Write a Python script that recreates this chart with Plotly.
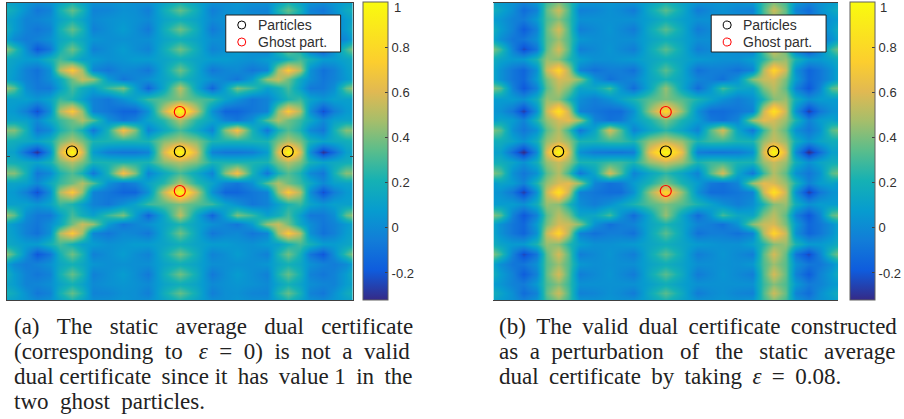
import numpy as np
import plotly.graph_objects as go

W, H = 904, 419
# quadrant sample positions: offset from the map centre (px-like units)
x_offsets = [-173, -166, -154, -143, -130, -120, -108, -98, -87, -72, -57, -45, -32, -16, 0]
y_offsets = [148.5, 141.5, 132.5, 122.5, 112.5, 102.5, 92.5, 81.5, 72.5, 63.5, 52.5, 40.5, 31.5, 21.5, 10.5, 0]

# upper-left quadrant of panel (a)
quad_a = [
    [.12, .10, .05, .00, .03, .12, .22, .12, .02, .02, .05, .02, .02, .12, .22],
    [.20, .15, .03, -.08, -.03, .20, .36, .22, -.03, -.02, .03, .02, -.05, .18, .36],
    [.12, .08, -.03, -.02, .02, .12, .20, .12, .00, .03, .05, .03, .00, .12, .18],
    [.18, .08, -.03, -.08, -.03, .20, .36, .22, -.04, .02, .08, .02, -.07, .18, .38],
    [.10, .00, -.06, -.03, .03, .14, .20, .14, .05, .02, .03, .02, .02, .12, .18],
    [.42, .28, .02, -.20, -.08, .20, .38, .22, -.04, .02, .08, .02, -.03, .18, .38],
    [.15, .12, .08, .08, .20, .30, .20, .10, .08, .03, .05, .08, .08, .12, .18],
    [.12, .08, -.04, -.10, .03, .50, .72, .48, -.02, -.08, .00, -.02, -.08, .14, .38],
    [.12, .06, -.03, -.08, .02, .15, .38, .55, .45, .08, -.08, -.02, .03, .12, .22],
    [.45, .35, .02, -.07, -.07, .10, .30, .18, .10, .28, .40, .10, -.15, .14, .52],
    [.10, .10, .10, .05, .12, .28, .22, .10, -.03, -.08, .03, .12, .28, .33, .40],
    [.08, .06, -.05, -.22, .02, .50, .72, .45, -.03, -.08, -.15, -.15, .03, .55, 1.0],
    [.12, .12, .10, .00, .15, .28, .38, .50, .33, .03, -.08, -.03, .12, .25, .50],
    [.42, .42, .20, -.08, .00, .22, .32, .20, -.08, .22, .68, .42, -.03, .15, .30],
    [.20, .18, .15, .12, .20, .40, .50, .40, .22, .22, .22, .22, .22, .42, .50],
    [.12, .10, -.12, -.30, .02, .60, 1.0, .60, .08, -.05, -.08, -.08, -.03, .60, 1.0],
]
# upper-left quadrant of panel (b)
quad_b = [
    [.12, .08, .03, -.04, .05, .30, .42, .28, .05, .03, .05, .03, .03, .12, .22],
    [.18, .12, .02, -.12, -.03, .36, .56, .32, -.04, -.02, .03, .00, -.06, .16, .34],
    [.08, .05, -.03, -.06, .07, .32, .42, .28, .03, .03, .03, .03, .03, .10, .18],
    [.18, .08, -.03, -.18, -.03, .36, .58, .32, -.05, .00, .05, .00, -.06, .16, .34],
    [.12, .02, -.08, -.08, .03, .34, .46, .32, .06, .02, .03, .02, .02, .12, .18],
    [.40, .28, -.03, -.24, -.08, .36, .58, .34, -.05, .00, .05, .00, -.05, .16, .34],
    [.18, .12, .07, .07, .22, .45, .42, .24, .10, .03, .03, .05, .07, .13, .18],
    [.12, .03, -.08, -.15, .03, .55, .78, .50, -.03, -.10, -.05, -.05, -.10, .14, .34],
    [.12, .03, -.08, -.14, .08, .40, .58, .55, .42, .04, -.10, -.05, -.02, .13, .22],
    [.40, .33, -.03, -.20, -.03, .35, .52, .40, .12, .14, .30, .05, -.12, .14, .45],
    [.08, .08, .08, .03, .18, .45, .42, .22, .02, -.05, .03, .12, .22, .33, .40],
    [.05, .03, -.08, -.27, .03, .55, .85, .55, -.03, -.08, -.12, -.12, .03, .45, .80],
    [.08, .12, .08, -.03, .22, .45, .58, .62, .45, -.02, -.10, -.07, .08, .22, .40],
    [.40, .33, .03, -.08, .03, .35, .50, .28, -.08, .13, .58, .33, -.03, .13, .25],
    [.18, .18, .12, .03, .18, .45, .55, .45, .22, .22, .28, .28, .22, .45, .55],
    [.10, .10, -.12, -.32, .00, .60, 1.0, .60, .03, -.06, -.08, -.08, -.05, .65, 1.0],
]

particles_x = [-108, 0, 108]
particles_y = [0, 0, 0]
ghost_x = [0, 0]
ghost_y = [39.5, -39.5]
bar_ticks = [-0.2, 0, 0.2, 0.4, 0.6, 0.8]
bar_labels = ['-0.2', '0', '0.2', '0.4', '0.6', '0.8']
top_label = '1'
z_limits = [-0.32, 1.003]

NB = "\u00a0"
TH = "\u2009"
captions_a = [
    f"(a){NB*3}The{NB*3}static{NB*3}average{NB*3}dual{NB*3}certificate",
    f"(corresponding{NB*2}to{NB*2}{TH}<i>ε</i>{NB*2}={NB*2}0){NB*2}is{NB*2}not{NB*2}a{NB*2}valid",
    f"dual{NB}certificate{NB}{TH}since{NB}it{NB}{TH}has{NB}{TH}value{NB}1{NB}{TH}in{NB}{TH}the",
    f"two{NB*2}ghost{NB*2}particles.",
]
captions_b = [
    f"(b){NB}{TH}The{NB}{TH}valid{NB}{TH}dual{NB}{TH}certificate{NB}{TH}constructed",
    f"as{NB*2}a{NB*2}perturbation{NB*2}{TH}of{NB*2}{TH}the{NB*2}{TH}static{NB*2}{TH}average",
    f"dual{NB}{TH}certificate{NB}{TH}by{NB}{TH}taking{NB}{TH}<i>ε</i>{NB}{TH}={NB}{TH}0.08.",
]
caption_y = [326, 351, 376, 401]

PARULA = [[0, 'rgb(53,42,135)'], [0.1, 'rgb(15,92,221)'], [0.2, 'rgb(18,125,216)'],
          [0.3, 'rgb(7,156,207)'], [0.4, 'rgb(21,177,180)'], [0.5, 'rgb(89,189,140)'],
          [0.6, 'rgb(165,190,107)'], [0.7, 'rgb(225,185,82)'], [0.8, 'rgb(252,206,46)'],
          [1, 'rgb(249,251,14)']]


def full_grid(quad):
    q = np.array(quad)
    top = np.hstack([q, q[:, -2::-1]])
    return np.vstack([top, top[-2::-1]])


xs = np.array(x_offsets + [-v for v in x_offsets[-2::-1]])
ys = np.array(y_offsets + [-v for v in y_offsets[-2::-1]])

fig = go.Figure()
panels = [
    dict(quad=quad_a, left=7, right=353, bar=363, legend_x=226, ax=''),
    dict(quad=quad_b, left=494, right=839, bar=850, legend_x=712, ax='2'),
]
shapes = []
notes = []
for i, p in enumerate(panels):
    ax = p['ax']
    fig.add_trace(go.Heatmap(
        z=full_grid(p['quad']), x=xs, y=ys, xaxis='x' + ax, yaxis='y' + ax,
        zmin=z_limits[0], zmax=z_limits[1], zsmooth='best', colorscale=PARULA,
        colorbar=dict(
            x=p['bar'] / W, xanchor='left', xref='paper', y=1 - 151 / H, yanchor='middle',
            len=298 / H, lenmode='fraction', thickness=25, thicknessmode='pixels',
            xpad=0, ypad=0, tickvals=bar_ticks, ticktext=bar_labels,
            ticks='inside', ticklen=3, tickcolor='#404040', outlinecolor='#606060', outlinewidth=1,
            tickfont=dict(family='Liberation Sans', size=13, color='#303030'),
        ),
    ))
    for name, px_, py_, col in [('Particles', particles_x, particles_y, 'black'),
                                ('Ghost part.', ghost_x, ghost_y, 'red')]:
        fig.add_trace(go.Scatter(x=px_, y=py_, mode='markers', name=name, xaxis='x' + ax, yaxis='y' + ax,
                                 showlegend=False, hoverinfo='skip',
                                 marker=dict(symbol='circle-open', size=11, color=col, line=dict(width=1.2, color=col))))
    axis_common = dict(showgrid=False, zeroline=False, showticklabels=False, showline=True,
                       linecolor='#404040', linewidth=1)
    fig.update_layout(**{
        'xaxis' + ax: dict(domain=[p['left'] / W, p['right'] / W], range=[-173, 173], ticks='', mirror=True, **axis_common),
        'yaxis' + ax: dict(domain=[1 - 300 / H, 1 - 3 / H], range=[-148.5, 148.5], ticks='inside', ticklen=3,
                           tickvals=[-5], tickcolor='#404040', mirror='ticks', **axis_common),
    })
    # the top colour-bar label sits by the page edge, where the colour bar itself drops it
    notes.append(dict(text=top_label, x=(p['bar'] + 29) / W, y=1 - 8 / H, xref='paper', yref='paper',
                      xanchor='left', yanchor='middle', showarrow=False,
                      font=dict(family='Liberation Sans', size=13, color='#303030')))
    # legend box, drawn to the reference's compact size
    lx = p['legend_x']
    shapes.append(dict(type='rect', xref='paper', yref='paper', x0=lx / W, x1=(lx + 115) / W,
                       y0=1 - 52 / H, y1=1 - 15 / H, fillcolor='white', line=dict(color='#202020', width=1)))
    for name, ly, col in [('Particles', 25, 'black'), ('Ghost part.', 42, 'red')]:
        shapes.append(dict(type='circle', xref='paper', yref='paper', x0=(lx + 12) / W, x1=(lx + 20) / W,
                           y0=1 - (ly + 4) / H, y1=1 - (ly - 4) / H, line=dict(color=col, width=1)))
        notes.append(dict(text=name, x=(lx + 30) / W, y=1 - ly / H, xref='paper', yref='paper', xanchor='left',
                          yanchor='middle', showarrow=False,
                          font=dict(family='Liberation Sans', size=14, color='#303030')))

for lines, x0 in [(captions_a, 12), (captions_b, 498)]:
    for text, y in zip(lines, caption_y):
        notes.append(dict(text=text, x=x0 / W, y=1 - y / H, xref='paper', yref='paper', xanchor='left',
                          yanchor='middle', showarrow=False, align='left',
                          font=dict(family='Liberation Serif', size=23, color='#222222')))
fig.update_layout(width=W, height=H, margin=dict(l=0, r=0, t=0, b=0), paper_bgcolor='white',
                  plot_bgcolor='white', annotations=notes, shapes=shapes, showlegend=False)
fig.write_html("out.html", post_script="document.body.style.margin='0';", config={'displayModeBar': False})
